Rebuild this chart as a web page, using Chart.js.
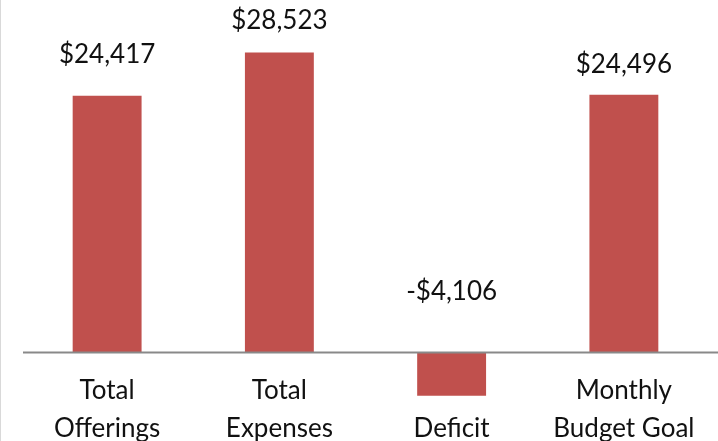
<!DOCTYPE html>
<html>
<head>
<meta charset="utf-8">
<script src="https://cdn.jsdelivr.net/npm/chart.js@4"></script>
<style>
    html, body { margin: 0; padding: 0; background: #ffffff; }
    #wrap { width: 718px; height: 441px; position: relative; }
</style>
</head>
<body>
<div id="wrap"><canvas id="budgetChart"></canvas></div>
<script>
const kategorien = [["Total", "Offerings"], ["Total", "Expenses"], "Deficit", ["Monthly", "Budget Goal"]];
const betraege = [24417, 28523, -4106, 24496];
const beschriftungen = ["$24,417", "$28,523", "-$4,106", "$24,496"];

const rot = "#C0504D";
const schrift = "Lato, 'Open Sans', sans-serif";

// labels sit a bit above the bar end, moved by hand like in the original
const anhebung = [41, 32, 61, 30];

const werteLabels = {
    id: "werteLabels",
    beforeDatasetsDraw(chart) {
        // thin frame at the left edge
        const ctx = chart.ctx;
        ctx.save();
        ctx.strokeStyle = "#d9d9d9";
        ctx.lineWidth = 1;
        ctx.beginPath();
        ctx.moveTo(0.5, 0);
        ctx.lineTo(0.5, chart.height);
        ctx.stroke();
        ctx.restore();
    },
    afterDatasetsDraw(chart) {
        const ctx = chart.ctx;
        const meta = chart.getDatasetMeta(0);
        const null_y = chart.scales.y.getPixelForValue(0);
        ctx.save();
        ctx.font = "26px " + schrift;
        ctx.fillStyle = "#111111";
        ctx.textAlign = "center";
        ctx.textBaseline = "middle";
        meta.data.forEach((bar, i) => {
            const oben = betraege[i] >= 0 ? bar.y : null_y;
            ctx.fillText(beschriftungen[i], bar.x, oben - anhebung[i]);
        });
        ctx.restore();
    },
    afterDraw(chart) {
        // zero line runs across the whole width
        const ctx = chart.ctx;
        const null_y = chart.scales.y.getPixelForValue(0);
        ctx.save();
        ctx.strokeStyle = "#898989";
        ctx.lineWidth = 2;
        ctx.beginPath();
        ctx.moveTo(23, null_y);
        ctx.lineTo(chart.width, null_y);
        ctx.stroke();
        ctx.restore();
    },
};

new Chart(document.getElementById("budgetChart"), {
    type: "bar",
    data: {
        labels: kategorien,
        datasets: [
            {
                data: betraege,
                backgroundColor: rot,
                borderWidth: 0,
                barPercentage: 0.4,
                categoryPercentage: 1.0,
            },
        ],
    },
    options: {
        responsive: true,
        maintainAspectRatio: false,
        animation: false,
        layout: {
            padding: { left: 21, right: 8, top: 0, bottom: 0 },
        },
        plugins: {
            legend: { display: false },
            tooltip: { enabled: false },
        },
        scales: {
            y: {
                display: false,
                min: -8413,
                max: 33508,
            },
            x: {
                position: { y: 0 },
                grid: { display: false, drawTicks: false },
                border: { display: false },
                afterFit(scale) {
                    scale.paddingLeft = 0;
                    scale.paddingRight = 0;
                },
                ticks: {
                    color: "#111111",
                    padding: 38,
                    crossAlign: "far",
                    maxRotation: 0,
                    autoSkip: false,
                    font: { family: schrift, size: 26, lineHeight: 1.45 },
                },
            },
        },
    },
    plugins: [werteLabels],
});
</script>
</body>
</html>
